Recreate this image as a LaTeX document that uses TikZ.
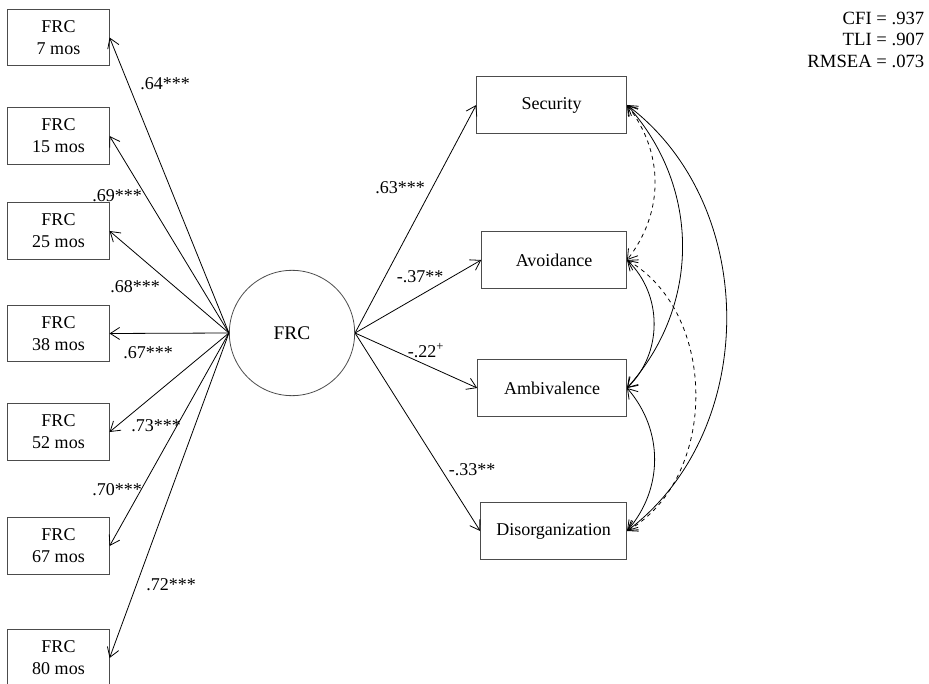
\documentclass[tikz,border=0pt]{standalone}
\usepackage{fontspec}
\setmainfont{Liberation Serif}
\usetikzlibrary{arrows.meta}

\begin{document}
\begin{tikzpicture}[x=0.75pt,y=-0.75pt,
        every node/.style={font=\fontsize{13.5}{16.5}\selectfont},
        obs/.style={draw=black!70,line width=0.6pt,minimum width=76pt,minimum height=42.5pt,inner sep=0pt,align=center},
        lat/.style={draw=black!70,line width=0.6pt,circle,minimum size=94pt,inner sep=0pt,font=\fontsize{14.5}{17}\selectfont},
        load/.style={line width=0.6pt,-{Straight Barb[length=7pt,width=9pt]}},
        cov/.style={line width=0.6pt,{Straight Barb[length=7pt,width=9pt]}-{Straight Barb[length=7pt,width=9pt]}}]
        \clip (0,0) rectangle (929,684);
        % Fattore latente
        \node[lat] (frc) at (292,333) {FRC};
        % Indicatori
        \node[obs] (m7) at (58.5,37.5) {FRC\\7 mos};
        \node[obs] (m15) at (58.5,136) {FRC\\15 mos};
        \node[obs] (m25) at (58.5,231) {FRC\\25 mos};
        \node[obs] (m38) at (58.5,333.5) {FRC\\38 mos};
        \node[obs] (m52) at (58.5,432) {FRC\\52 mos};
        \node[obs] (m67) at (58.5,546) {FRC\\67 mos};
        \node[obs] (m80) at (58.5,658) {FRC\\80 mos};
        \foreach \m in {m7,m15,m25,m38,m52,m67,m80}
            \draw[load] (frc.west) -- (\m.east);
        \node (l7) at (165,84) {.64***};
        \node (l15) at (117,196) {.69***};
        \node (l25) at (135,287) {.68***};
        \node (l38) at (148,353) {.67***};
        \node (l52) at (156,426) {.73***};
        \node (l67) at (117,490) {.70***};
        \node (l80) at (171,585) {.72***};
        % Esiti
        \node[obs,anchor=east,minimum width=112.5pt] (sec) at (627,105) {Security};
        \node[obs,anchor=east,minimum width=108.75pt] (avo) at (627,260) {Avoidance};
        \node[obs,anchor=east,minimum width=111.75pt] (amb) at (627,388) {Ambivalence};
        \node[obs,anchor=east,minimum width=109.5pt] (dis) at (627,531) {Disorganization};
        \draw[load] (frc.east) -- (sec.west);
        \draw[load] (frc.east) -- (avo.west);
        \draw[load] (frc.east) -- (amb.west);
        \draw[load] (frc.east) -- (dis.west);
        \node (lsec) at (400,188) {.63***};
        \node (lavo) at (420,277) {-.37**};
        \node (lamb) at (426,351) {-.22\textsuperscript{+}};
        \node (ldis) at (472,470) {-.33**};
        % Covarianze
        \draw[cov,dashed,bend left=38] (sec.east) to (avo.east);
        \draw[cov,bend left=42] (sec.east) to (amb.east);
        \draw[cov,bend left=53] (sec.east) to (dis.east);
        \draw[cov,bend left=46] (avo.east) to (amb.east);
        \draw[cov,dashed,bend left=60] (avo.east) to (dis.east);
        \draw[cov,bend left=41] (amb.east) to (dis.east);
        % Indici di adattamento
        \node[anchor=north east,align=right,font=\fontsize{14}{16.3}\selectfont] (fit) at (929,7) {CFI = .937\\TLI = .907\\RMSEA = .073};
\end{tikzpicture}
\end{document}
